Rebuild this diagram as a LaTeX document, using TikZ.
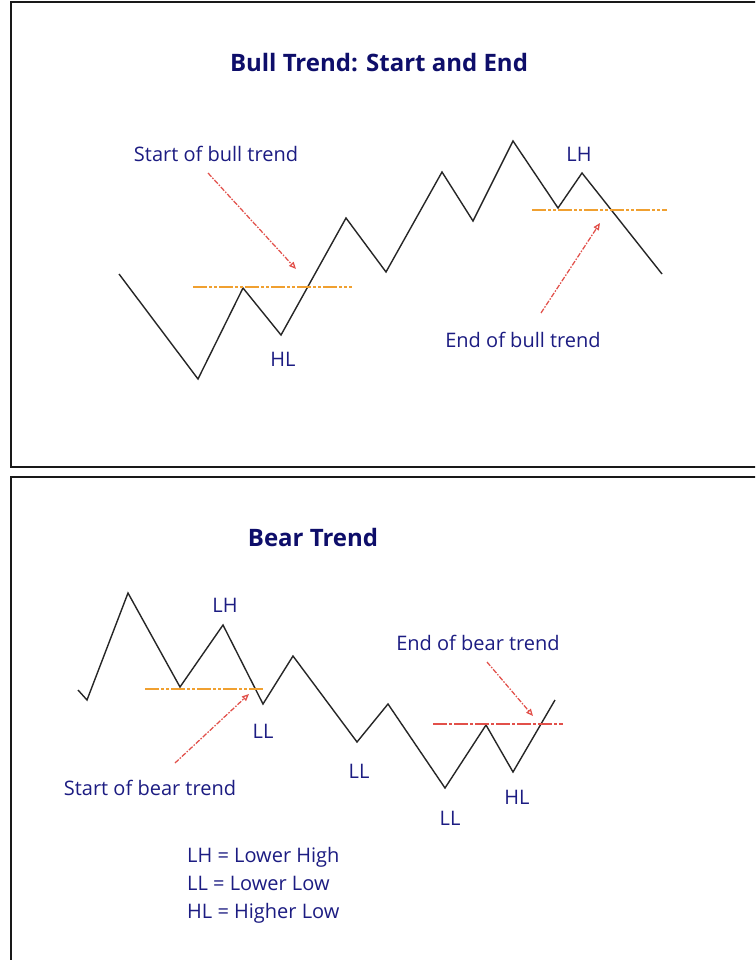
\documentclass[tikz,border=0pt]{standalone}
\usepackage{fontspec}
\setmainfont{Open Sans}
\usetikzlibrary{arrows.meta}
\definecolor{navy}{HTML}{1C1C82}
\definecolor{titlenavy}{HTML}{0E0E6A}
\definecolor{lvl}{HTML}{F0A030}
\definecolor{arr}{HTML}{E2504A}
\tikzset{
  panel/.style={draw=black!90, line width=2.4pt},
  zig/.style={draw=black!85, line width=1.4pt, line join=miter},
  level/.style={draw=lvl, line width=1.3pt, dash pattern=on 14pt off 2pt on 3pt off 2pt on 3pt off 2pt},
  redlevel/.style={draw=arr, line width=1.3pt, dash pattern=on 14pt off 2pt on 3pt off 2pt},
  pointer/.style={draw=arr, line width=1.25pt, dash pattern=on 5pt off 1.5pt on 1.5pt off 1.5pt, -{Triangle[open, length=7pt, width=6pt]}},
  title/.style={text=titlenavy, font=\bfseries\fontsize{24}{28}\selectfont, inner sep=0pt},
  lbl/.style={text=navy, font=\fontsize{20}{24}\selectfont, inner sep=0pt},
}
\begin{document}
\begin{tikzpicture}[x=1pt, y=-1pt]
\clip (0,0) rectangle (755,960);
\fill[white] (0,0) rectangle (755,960);
% panels
\draw[panel] (11,2) rectangle (770,467);
\draw[panel] (11,477) rectangle (770,980);

% ===== Top panel =====
\node[title] (t1) at (379,63) {Bull Trend: Start and End};
\coordinate (a0) at (119,274);
\coordinate (a1) at (198,379);
\coordinate (a2) at (243,288);
\coordinate (a3) at (281,335);
\coordinate (a4) at (346,218);
\coordinate (a5) at (386,272);
\coordinate (a6) at (442,172);
\coordinate (a7) at (473,221);
\coordinate (a8) at (513,141);
\coordinate (a9) at (558,208);
\coordinate (a10) at (582,173);
\coordinate (a11) at (662,274);
\draw[zig] (a0)--(a1)--(a2)--(a3)--(a4)--(a5)--(a6)--(a7)--(a8)--(a9)--(a10)--(a11);

\coordinate (l1a) at (193,287);
\coordinate (l1b) at (352,287);
\draw[level] (l1a) -- (l1b);
\coordinate (l2a) at (532,210);
\coordinate (l2b) at (667,210);
\draw[level] (l2a) -- (l2b);

\node[lbl] (sbull) at (216,154) {Start of bull trend};
\coordinate (sbA) at (208,173);
\coordinate (sbB) at (296,269);
\draw[pointer] (sbA) -- (sbB);

\node[lbl] (hl1) at (283,359) {HL};
\node[lbl] (lh1) at (579,154) {LH};

\node[lbl] (ebull) at (523,340) {End of bull trend};
\coordinate (ebA) at (541,313);
\coordinate (ebB) at (600,223);
\draw[pointer] (ebA) -- (ebB);

% ===== Bottom panel =====
\node[title] (t2) at (313,537) {Bear Trend};
\coordinate (b0) at (78,690);
\coordinate (b1) at (87,700);
\coordinate (b2) at (128,593);
\coordinate (b3) at (180,687);
\coordinate (b4) at (223,625);
\coordinate (b5) at (263,704);
\coordinate (b6) at (293,656);
\coordinate (b7) at (357,742);
\coordinate (b8) at (388,704);
\coordinate (b9) at (445,788);
\coordinate (b10) at (486,725);
\coordinate (b11) at (513,772);
\coordinate (b12) at (555,700);
\draw[zig] (b0)--(b1)--(b2)--(b3)--(b4)--(b5)--(b6)--(b7)--(b8)--(b9)--(b10)--(b11)--(b12);

\coordinate (l3a) at (145,689);
\coordinate (l3b) at (263,689);
\draw[level] (l3a) -- (l3b);
\coordinate (l4a) at (433,724);
\coordinate (l4b) at (563,724);
\draw[redlevel] (l4a) -- (l4b);

\node[lbl] (lh2) at (225,605) {LH};
\node[lbl] (ll1) at (263,731) {LL};
\node[lbl] (ll2) at (359,771) {LL};
\node[lbl] (ll3) at (450,818) {LL};
\node[lbl] (hl2) at (517,797) {HL};

\node[lbl] (sbear) at (150,788) {Start of bear trend};
\coordinate (sbrA) at (175,763);
\coordinate (sbrB) at (249,694);
\draw[pointer] (sbrA) -- (sbrB);

\node[lbl] (ebear) at (478,643) {End of bear trend};
\coordinate (ebrA) at (487,662);
\coordinate (ebrB) at (533,716);
\draw[pointer] (ebrA) -- (ebrB);

\node[lbl, anchor=base west] (lg1) at (187,862) {LH = Lower High};
\node[lbl, anchor=base west] (lg2) at (187,890) {LL = Lower Low};
\node[lbl, anchor=base west] (lg3) at (187,918) {HL = Higher Low};
\end{tikzpicture}
\end{document}
